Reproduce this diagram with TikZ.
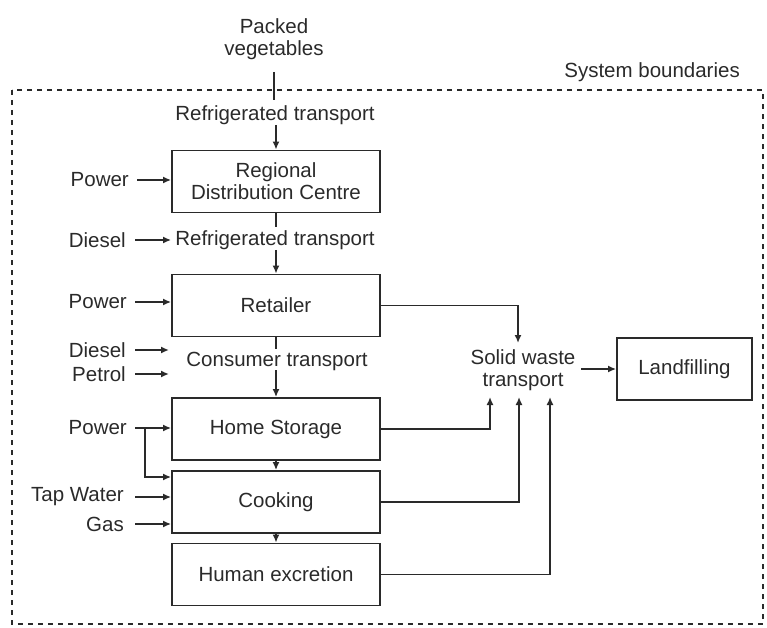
\documentclass[tikz,border=0pt]{standalone}
\usepackage{fontspec}
\setmainfont{Liberation Sans}
\usetikzlibrary{arrows.meta}
\definecolor{ink}{HTML}{2A2A2A}
\begin{document}
\begin{tikzpicture}[x=1pt,y=-1pt,
  every node/.style={text=ink,font=\fontsize{20.5}{23}\selectfont,align=center,inner sep=0pt},
  procbox/.style={draw=ink,line width=1.8pt,minimum width=208pt,minimum height=62pt},
  flow/.style={draw=ink,line width=1.7pt},
  arr/.style={flow,-{Latex[length=8pt,width=7pt]}},
  bound/.style={draw=ink,line width=1.6pt,dash pattern=on 5pt off 5pt}]
\useasboundingbox (0,0) rectangle (767,628);
% system boundary
\draw[bound] (12,90) rectangle (763,624);
\node[anchor=east] (sb) at (740,72) {System boundaries};
% top
\node (pv) at (274,39) {Packed\\[-1pt]vegetables};
\coordinate (pvb) at (274,100);
\node (rt1) at (275,115) {Refrigerated transport};
% boxes
\node[procbox] (rdc) at (276,181.5) {Regional\\[-1pt]Distribution Centre};
\node (rt2) at (275,240) {Refrigerated transport};
\node[procbox] (ret) at (276,305.5) {Retailer};
\node (ct) at (277,361) {Consumer transport};
\node[procbox] (hs) at (276,429) {Home Storage};
\node[procbox] (ck) at (276,502) {Cooking};
\node[procbox] (he) at (276,574.5) {Human excretion};
\node (swt) at (523,370) {Solid waste\\[-1pt]transport};
\node[procbox,minimum width=135pt] (lf) at (684.5,369) {Landfilling};
% inputs
\node[anchor=east] (p1) at (129,180) {Power};
\node[anchor=east] (d1) at (126,240) {Diesel};
\node[anchor=east] (p2) at (127,302) {Power};
\node[anchor=east] (d2) at (126,350) {Diesel};
\node[anchor=east] (pe) at (126,374) {Petrol};
\node[anchor=east] (p3) at (127,428) {Power};
\node[anchor=east] (tw) at (124,497) {Tap Water};
\node[anchor=east] (gs) at (124,524) {Gas};
% main flow
\draw[flow] (pv.south |- 0,72) -- (pvb);
\draw[arr] (rt1.south -| rdc.north) -- (rdc.north);
\draw[flow] (rdc.south) -- ++(0,14);
\draw[arr] (rt2.south -| ret.north) -- (ret.north);
\draw[flow] (ret.south) -- ++(0,12);
\draw[arr] (ct.south -| hs.north) -- (hs.north);
\draw[arr] (hs.south) -- (ck.north);
\draw[arr] (ck.south) -- (he.north);
% inputs arrows
\draw[arr] (p1.east) ++(8,0) -- (rdc.west |- p1.east);
\draw[arr] (d1.east) ++(9,0) -- (rdc.west |- d1.east);
\draw[arr] (p2.east) ++(8,0) -- (ret.west |- p2.east);
\draw[arr] (d2.east) ++(9,0) -- (169,350);
\draw[arr] (pe.east) ++(9,0) -- (169,374);
\draw[arr] (p3.east) ++(8,0) -- (hs.west |- p3.east);
\draw[arr] (145,428) |- (ck.west |- 0,477);
\draw[arr] (tw.east) ++(11,0) -- (ck.west |- tw.east);
\draw[arr] (gs.east) ++(11,0) -- (ck.west |- gs.east);
% waste flows
\draw[arr] (ret.east) -| (518,343);
\draw[arr] (hs.east) -| (490,397);
\draw[arr] (ck.east) -| (519,397);
\draw[arr] (he.east) -| (550,397);
\draw[arr] (581,369) -- (lf.west);
\end{tikzpicture}
\end{document}
